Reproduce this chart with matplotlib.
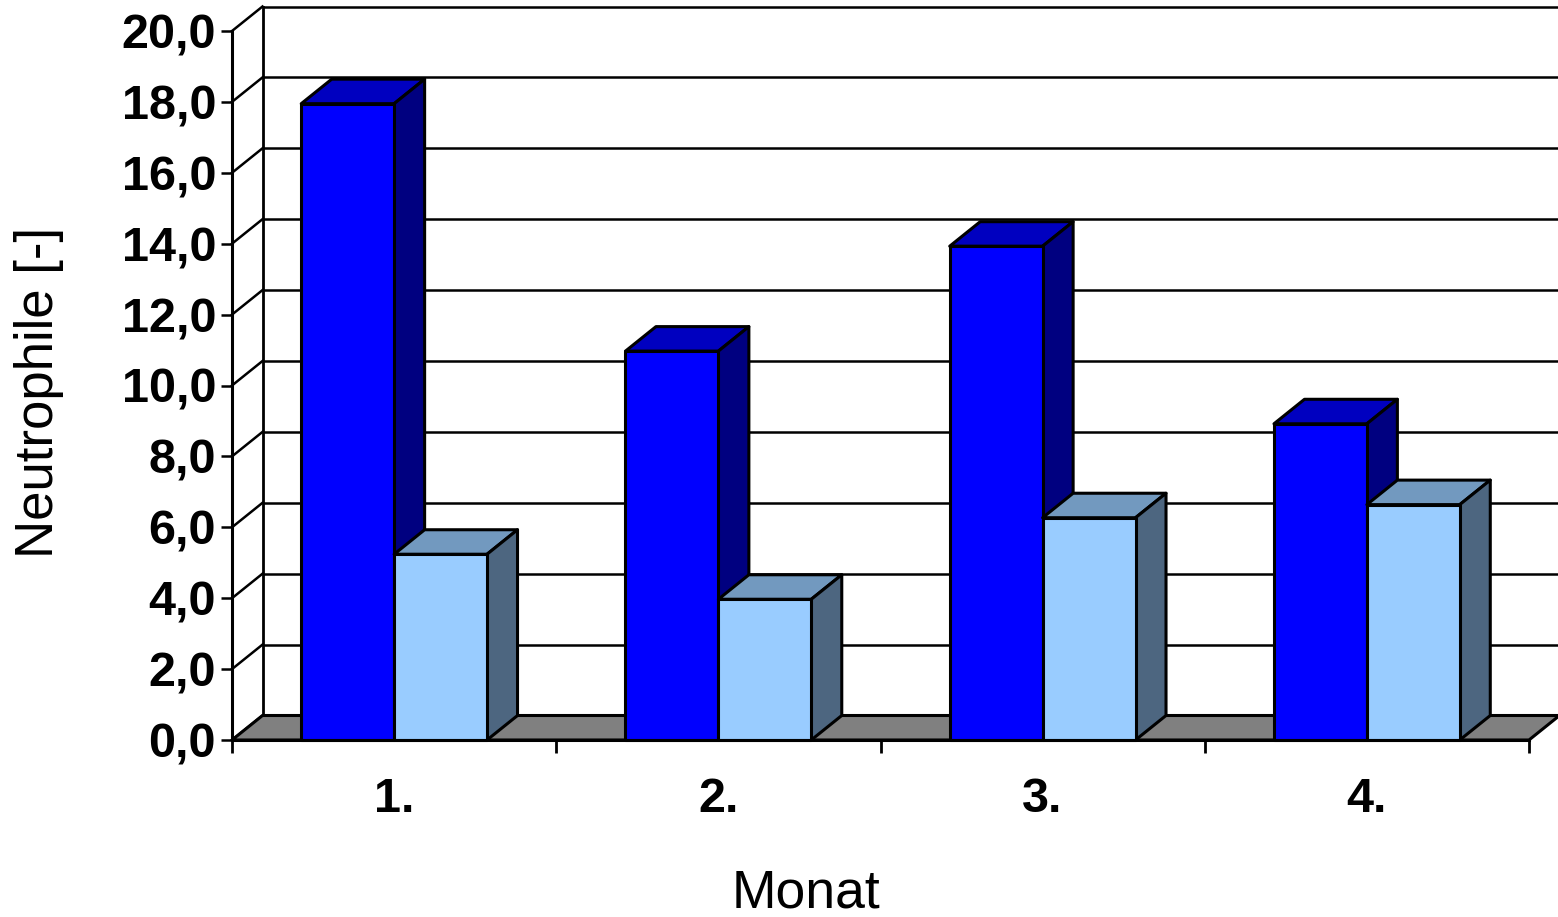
import matplotlib
matplotlib.use('Agg')
import matplotlib.pyplot as plt
from matplotlib.patches import Polygon

months = ['1.', '2.', '3.', '4.']
dark_values = [17.95, 10.97, 13.93, 8.92]
light_values = [5.24, 3.97, 6.27, 6.64]
y_ticks = [0, 2, 4, 6, 8, 10, 12, 14, 16, 18, 20]

W, H = 1558, 917
# front plane of the fake 3d box, in pixels
left, right, bottom, top = 232, 1529, 740, 31
depth_px = (30.5, 24.5)
bar_w = 0.2865

plt.rcParams['font.family'] = ['Liberation Sans', 'DejaVu Sans']

fig = plt.figure(figsize=(W / 100, H / 100), dpi=100)
ax = fig.add_axes([left / W, 1 - bottom / H, (right - left) / W, (bottom - top) / H])
ax.set_xlim(0, 4)
ax.set_ylim(0, 20)

dx = depth_px[0] / (right - left) * 4
dy = depth_px[1] / (bottom - top) * 20


def poly(pts, color, z, lw=2.2):
    ax.add_patch(Polygon(pts, closed=True, facecolor=color, edgecolor='black',
                         linewidth=lw, zorder=z, clip_on=False, joinstyle='round'))


def box(x0, x1, h, front, topc, side, z):
    poly([(x0, 0), (x1, 0), (x1, h), (x0, h)], front, z + 0.2)
    poly([(x0, h), (x1, h), (x1 + dx, h + dy), (x0 + dx, h + dy)], topc, z)
    poly([(x1, 0), (x1 + dx, dy), (x1 + dx, h + dy), (x1, h)], side, z + 0.1)


# floor
poly([(0, 0), (4, 0), (4 + dx, dy), (dx, dy)], '#808080', 1)

# back wall grid and side wall lines
for v in y_ticks:
    ax.plot([dx, 4 + dx], [v + dy, v + dy], color='black', lw=1.8, zorder=0.5,
            clip_on=False, solid_capstyle='butt')
    ax.plot([0, dx], [v, v + dy], color='black', lw=1.8, zorder=0.6, clip_on=False)
ax.plot([dx, dx], [dy, 20 + dy], color='black', lw=2, zorder=0.7, clip_on=False)

for i in range(len(months)):
    c = i + 0.5
    box(c - bar_w, c, dark_values[i], '#0000ff', '#0000c0', '#000080', 2 + i)
    box(c, c + bar_w, light_values[i], '#99ccff', '#7299bf', '#4d6680', 2.5 + i)

for s in ['top', 'right']:
    ax.spines[s].set_visible(False)
for s in ['left', 'bottom']:
    ax.spines[s].set_linewidth(2.2)
    ax.spines[s].set_zorder(20)

ax.set_yticks(y_ticks)
ax.set_yticklabels([('%.1f' % v).replace('.', ',') for v in y_ticks],
                   fontsize=35, fontweight='bold')
ax.set_xticks(range(5))
ax.set_xticklabels([])
ax.set_xticks([i + 0.5 for i in range(4)], minor=True)
ax.set_xticklabels(months, minor=True, fontsize=35, fontweight='bold')
ax.tick_params(axis='x', which='major', length=9, width=2, direction='out')
ax.tick_params(axis='x', which='minor', length=0, pad=27)
ax.tick_params(axis='y', length=8, width=1.8, direction='out', pad=3.5)

fig.text(39 / W, 1 - 392 / H, 'Neutrophile [-]', rotation=90, fontsize=38,
         ha='center', va='center')
fig.text(806 / W, 1 - 894 / H, 'Monat', fontsize=38.5, ha='center', va='center')

fig.savefig('out.png', dpi=100)
